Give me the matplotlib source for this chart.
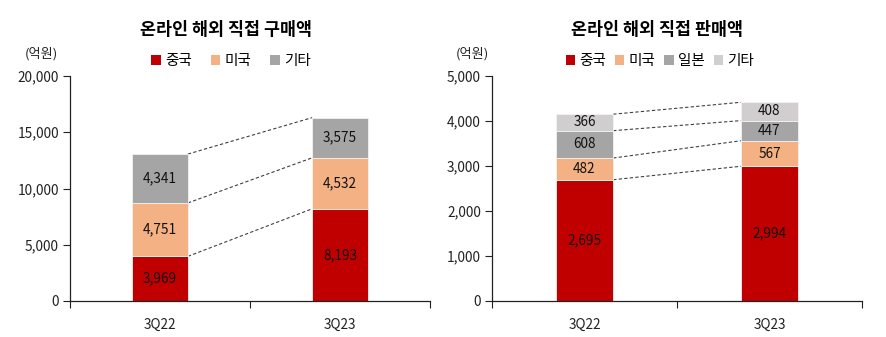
import matplotlib
matplotlib.use("Agg")
import matplotlib.pyplot as plt
from matplotlib.patches import Patch
import numpy as np

plt.rcParams['font.family'] = ['Noto Sans CJK KR', 'DejaVu Sans']

# 온라인 해외 직접 구매액 (억원)
periods = ["3Q22", "3Q23"]
buy_series = ["중국", "미국", "기타"]
buy_china = [3969, 8193]
buy_usa = [4751, 4532]
buy_other = [4341, 3575]

# 온라인 해외 직접 판매액 (억원)
sell_series = ["중국", "미국", "일본", "기타"]
sell_china = [2695, 2994]
sell_usa = [482, 567]
sell_japan = [608, 447]
sell_other = [366, 408]

buy_colors = ["#C00000", "#F4B183", "#A5A5A5"]
sell_colors = ["#C00000", "#F4B183", "#A5A5A5", "#D0CECE"]

W, H = 887, 337
fig = plt.figure(figsize=(W / 100, H / 100), dpi=100)


def fx(px):
    return px / W


def fy(py):
    return 1 - py / H


def stacked(ax, stacks, colors, ymax, step):
    x = np.arange(len(periods))
    width = 0.31
    bottom = np.zeros(len(periods))
    tops = []
    for vals, c in zip(stacks, colors):
        vals = np.array(vals, dtype=float)
        ax.bar(x, vals, width, bottom=bottom, color=c, edgecolor="#F2F2F2",
               linewidth=0.6, zorder=2)
        for xi, b, v in zip(x, bottom, vals):
            ax.text(xi, b + v / 2, f"{int(v):,}", ha="center", va="center",
                    fontsize=9.8, color="#111111", zorder=3)
        bottom = bottom + vals
        tops.append(bottom.copy())
    # dashed connectors between the cumulative levels
    for t in tops:
        ax.plot([x[0] + width / 2, x[1] - width / 2], [t[0], t[1]],
                ls=(0, (3, 2)), color="#404040", lw=0.8, zorder=1)
    ax.set_xlim(-0.5, 1.5)
    ax.set_ylim(0, ymax)
    ax.set_yticks(np.arange(0, ymax + 1, step))
    ax.set_yticklabels([f"{v:,}" for v in np.arange(0, ymax + 1, step)])
    ax.set_xticks(x)
    ax.set_xticklabels(periods)
    ax.set_xticks([-0.5, 0.5, 1.5], minor=True)
    ax.tick_params(axis="x", which="major", length=0, pad=12, labelsize=9.8,
                   colors="#222222")
    ax.tick_params(axis="x", which="minor", length=5, width=0.8,
                   direction="out", color="#222222")
    ax.tick_params(axis="y", length=5, width=0.8, labelsize=9.8,
                   colors="#222222", pad=3)
    for s in ("top", "right"):
        ax.spines[s].set_visible(False)
    for s in ("left", "bottom"):
        ax.spines[s].set_color("#222222")
        ax.spines[s].set_linewidth(0.9)


ax1 = fig.add_axes([fx(70), fy(301), fx(430) - fx(70), fy(76) - fy(301)])
stacked(ax1, [buy_china, buy_usa, buy_other], buy_colors, 20000, 5000)

ax2 = fig.add_axes([fx(492), fy(301), fx(862) - fx(492), fy(76) - fy(301)])
stacked(ax2, [sell_china, sell_usa, sell_japan, sell_other], sell_colors, 5000, 1000)

fig.text(fx(226), fy(30), "온라인 해외 직접 구매액", ha="center", va="center",
         fontsize=12.5, fontweight="bold")
fig.text(fx(657), fy(30), "온라인 해외 직접 판매액", ha="center", va="center",
         fontsize=12.5, fontweight="bold")
fig.text(fx(41), fy(54), "(억원)", ha="center", va="center", fontsize=9.5,
         color="#222222")
fig.text(fx(472), fy(54), "(억원)", ha="center", va="center", fontsize=9.5,
         color="#222222")

h1 = [Patch(facecolor=c, edgecolor="none") for c in buy_colors]
fig.legend(h1, buy_series, loc="center", bbox_to_anchor=(fx(231), fy(61)),
           ncol=3, frameon=False, fontsize=10.5, handlelength=0.65,
           handleheight=0.65, handletextpad=0.3, columnspacing=1.3,
           borderpad=0)
h2 = [Patch(facecolor=c, edgecolor="none") for c in sell_colors]
fig.legend(h2, sell_series, loc="center", bbox_to_anchor=(fx(660), fy(61)),
           ncol=4, frameon=False, fontsize=10.5, handlelength=0.65,
           handleheight=0.65, handletextpad=0.3, columnspacing=0.6,
           borderpad=0)

fig.savefig("out.png", dpi=100)
